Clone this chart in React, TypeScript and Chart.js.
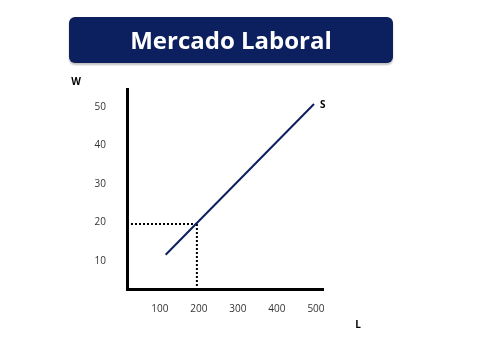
import React, { useEffect, useRef } from "react";
import { Chart, registerables } from "chart.js";

Chart.register(...registerables);

const titleText = "Mercado Laboral";
const xAxisLabel = "L";
const yAxisLabel = "W";
const seriesLabel = "S";
const xTicks = [100, 200, 300, 400, 500];
const yTicks = [10, 20, 30, 40, 50];
const supplyL = [115, 495];
const supplyW = [11.6, 50.8];
const eqL = 195;
const eqW = 19.6;
const xMin = 16;
const xMax = 518;
const yMin = 2.7;
const yMax = 54.7;

const NAVY = "#0c1f5e";

export default function App() {
  const ref = useRef<HTMLCanvasElement | null>(null);
  useEffect(() => {
    if (!ref.current) return;
    const labelsPlugin = {
      id: "axisLetters",
      afterDraw(chart: any) {
        const ctx = chart.ctx;
        const xs = chart.scales.x;
        const ys = chart.scales.y;
        const area = chart.chartArea;
        ctx.save();
        ctx.fillStyle = "#000";
        ctx.font = "bold 10px 'Open Sans'";
        ctx.textAlign = "center";
        ctx.textBaseline = "middle";
        ctx.fillText(yAxisLabel, area.left - 51, area.top - 7);
        ctx.fillText(xAxisLabel, area.right + 35, area.bottom + 36);
        const lx = xs.getPixelForValue(supplyL[supplyL.length - 1]);
        const ly = ys.getPixelForValue(supplyW[supplyW.length - 1]);
        ctx.textAlign = "left";
        ctx.fillText(seriesLabel, lx + 6, ly + 1);
        ctx.restore();
      },
    };
    const chart = new Chart(ref.current, {
      type: "scatter",
      data: {
        datasets: [
          {
            label: seriesLabel,
            data: supplyL.map((x, i) => ({ x, y: supplyW[i] })),
            showLine: true,
            borderColor: NAVY,
            borderWidth: 2,
            pointRadius: 0,
          },
          {
            label: "h",
            data: [
              { x: xMin, y: eqW },
              { x: eqL, y: eqW },
            ],
            showLine: true,
            borderColor: "#000",
            borderWidth: 2,
            borderDash: [2, 2],
            pointRadius: 0,
          },
          {
            label: "v",
            data: [
              { x: eqL, y: eqW },
              { x: eqL, y: yMin },
            ],
            showLine: true,
            borderColor: "#000",
            borderWidth: 2,
            borderDash: [2, 2],
            pointRadius: 0,
          },
        ],
      },
      options: {
        animation: false,
        responsive: false,
        layout: { padding: { left: 67, right: 157, top: 89, bottom: 20 } },
        plugins: {
          legend: { display: false },
          tooltip: { enabled: false },
          title: { display: false },
        },
        scales: {
          x: {
            type: "linear",
            min: xMin,
            max: xMax,
            grid: { display: false, drawTicks: false },
            border: { display: true, color: "#000", width: 3 },
            afterBuildTicks: (s: any) => {
              s.ticks = xTicks.map((v) => ({ value: v }));
            },
            afterFit: (s: any) => {
              s.height = 30;
            },
            ticks: {
              color: "#333",
              font: { family: "'Open Sans'", size: 10 },
              padding: 14,
              maxRotation: 0,
              autoSkip: false,
            },
          },
          y: {
            type: "linear",
            min: yMin,
            max: yMax,
            grid: { display: false, drawTicks: false },
            border: { display: true, color: "#000", width: 3 },
            afterBuildTicks: (s: any) => {
              s.ticks = yTicks.map((v) => ({ value: v }));
            },
            afterFit: (s: any) => {
              s.width = 60;
            },
            ticks: {
              color: "#333",
              font: { family: "'Open Sans'", size: 10 },
              padding: 21,
              autoSkip: false,
            },
          },
        },
      },
      plugins: [labelsPlugin],
    });
    return () => chart.destroy();
  }, []);

  return (
    <div style={{ position: "fixed", left: 0, top: 0, width: 480, height: 339, background: "#fff" }}>
      <canvas ref={ref} width={480} height={339} style={{ position: "absolute", left: 0, top: 0 }} />
      <div
        style={{
          position: "absolute",
          left: 69,
          top: 17,
          width: 324,
          height: 46,
          background: NAVY,
          borderRadius: 6,
          boxShadow: "0 2px 2px rgba(0,0,0,0.25)",
          color: "#fff",
          fontFamily: "'Open Sans', sans-serif",
          fontWeight: 700,
          fontSize: 24,
          display: "flex",
          alignItems: "center",
          justifyContent: "center",
          lineHeight: 1,
        }}
      >
        {titleText}
      </div>
    </div>
  );
}
